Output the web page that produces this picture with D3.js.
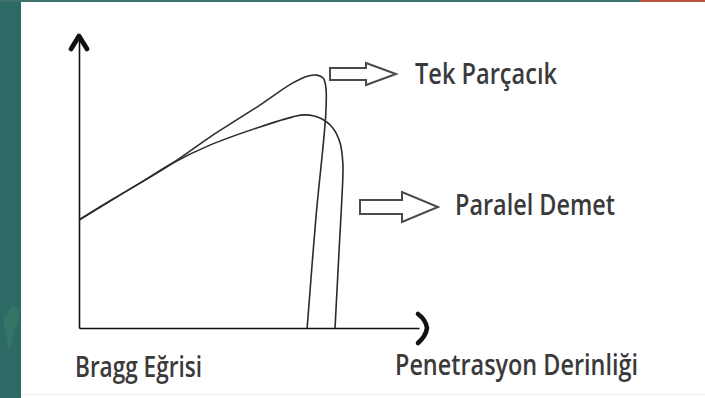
<!DOCTYPE html>
<html>
<head>
<meta charset="utf-8">
<script src="https://cdn.jsdelivr.net/npm/d3@7"></script>
<style>
  html, body { margin: 0; padding: 0; background: #ffffff; }
  svg { display: block; }
  text { font-family: "Open Sans", "Noto Sans", sans-serif; font-weight: 600; fill: #3a3a3a; }
</style>
</head>
<body>
<svg id="chart" width="705" height="398"></svg>
<script>
// Bragg curve: relative dose versus penetration depth (arbitrary units, 0–100)
const tekDepth    = [0, 9.1, 17.9, 27.6, 38.5, 45.9, 53.2, 62.9, 67.4, 70.0, 71.8, 72.6, 72.6, 69.7, 67.1];
const tekDose     = [37.5, 44.1, 50.3, 57.3, 66.3, 71.9, 77.4, 85.1, 87.5, 87.8, 86.8, 83.7, 74.7, 38.5, 0];
const paralelDepth = [0, 9.1, 17.9, 27.6, 38.5, 53.2, 62.9, 66.5, 70.9, 74.7, 76.8, 77.6, 77.6, 76.5, 75.3];
const paralelDose  = [37.5, 44.1, 50.3, 57.3, 63.5, 69.8, 73.3, 74.0, 72.9, 69.4, 64.2, 57.3, 52.4, 27.1, 0];

const seriesNames = ["Tek Parçacık", "Paralel Demet"];
const xAxisTitle = "Penetrasyon Derinliği";
const chartTitle = "Bragg Eğrisi";

const svg = d3.select("#chart");
const W = 705, H = 398;

// page frame: teal band on the left, thin strip on top
svg.append("rect").attr("x", 0).attr("y", 0).attr("width", W).attr("height", H).attr("fill", "#ffffff");
svg.append("rect").attr("x", 0).attr("y", 0).attr("width", 21).attr("height", H).attr("fill", "#2e6a65");
svg.append("rect").attr("x", 0).attr("y", 0).attr("width", W).attr("height", 2).attr("fill", "#3d716c");
svg.append("rect").attr("x", 640).attr("y", 0).attr("width", 65).attr("height", 2).attr("fill", "#b5553f");
svg.append("path").attr("d", "M3,318 L14,305 L20,312 L9,352 Z").attr("fill", "#3c8a6e").attr("opacity", 0.35);
svg.append("rect").attr("x", 21).attr("y", 394).attr("width", W - 21).attr("height", 1).attr("fill", "#e2f1f1");

const x = d3.scaleLinear().domain([0, 100]).range([79, 419]);
const y = d3.scaleLinear().domain([0, 100]).range([328, 40]);

// axes without ticks
svg.append("g").attr("transform", `translate(0,${y(0)})`)
  .call(d3.axisBottom(x).tickValues([]).tickSizeOuter(0));
svg.append("g").attr("transform", `translate(${x(0)},0)`)
  .call(d3.axisLeft(y).tickValues([]).tickSizeOuter(0));
svg.selectAll(".domain").attr("stroke", "#111").attr("stroke-width", 1.6);

// arrowheads
svg.append("path")
  .attr("d", `M${x(0) - 8},${y(100) + 9} L${x(0)},${y(100) - 4} L${x(0) + 8},${y(100) + 9}`)
  .attr("fill", "none").attr("stroke", "#111").attr("stroke-width", 4.8)
  .attr("stroke-linejoin", "round").attr("stroke-linecap", "round");
svg.append("path")
  .attr("d", `M${x(100) - 1},${y(0) - 14} Q${x(100) + 7},${y(0) - 8} ${x(100) + 8},${y(0)} Q${x(100) + 7},${y(0) + 8} ${x(100) - 1},${y(0) + 15}`)
  .attr("fill", "none").attr("stroke", "#111").attr("stroke-width", 4.6).attr("stroke-linecap", "round");

// curves
const line = d3.line().x(d => x(d[0])).y(d => y(d[1])).curve(d3.curveCatmullRom.alpha(0.5));
const tek = tekDepth.map((d, i) => [d, tekDose[i]]);
const par = paralelDepth.map((d, i) => [d, paralelDose[i]]);
[par, tek].forEach(pts => {
  svg.append("path").datum(pts).attr("d", line)
    .attr("fill", "none").attr("stroke", "#2b2b2b").attr("stroke-width", 1.6)
    .attr("stroke-linejoin", "round");
});

// hollow arrows pointing to the labels
function hollowArrow(x0, yc, shaftEnd, tip, shaftHalf, headHalf) {
  return `M${x0},${yc - shaftHalf} L${shaftEnd},${yc - shaftHalf} L${shaftEnd},${yc - headHalf} ` +
         `L${tip},${yc} L${shaftEnd},${yc + headHalf} L${shaftEnd},${yc + shaftHalf} L${x0},${yc + shaftHalf} Z`;
}
svg.append("path").attr("d", hollowArrow(330, 74, 366, 396, 6, 11))
  .attr("fill", "#fff").attr("stroke", "#4a4a4a").attr("stroke-width", 2);
svg.append("path").attr("d", hollowArrow(360, 207, 402, 438, 7, 15))
  .attr("fill", "#fff").attr("stroke", "#4a4a4a").attr("stroke-width", 2);

// labels
const labels = [
  { t: seriesNames[0], x: 415, y: 84, w: 142 },
  { t: seriesNames[1], x: 455, y: 215, w: 160 },
  { t: chartTitle, x: 75, y: 377, w: 127 },
  { t: xAxisTitle, x: 395, y: 375, w: 243 }
];
svg.selectAll("text.lbl").data(labels).enter().append("text")
  .attr("class", "lbl")
  .attr("x", d => d.x).attr("y", d => d.y)
  .attr("font-size", 28)
  .attr("textLength", d => d.w).attr("lengthAdjust", "spacingAndGlyphs")
  .text(d => d.t);
</script>
</body>
</html>
